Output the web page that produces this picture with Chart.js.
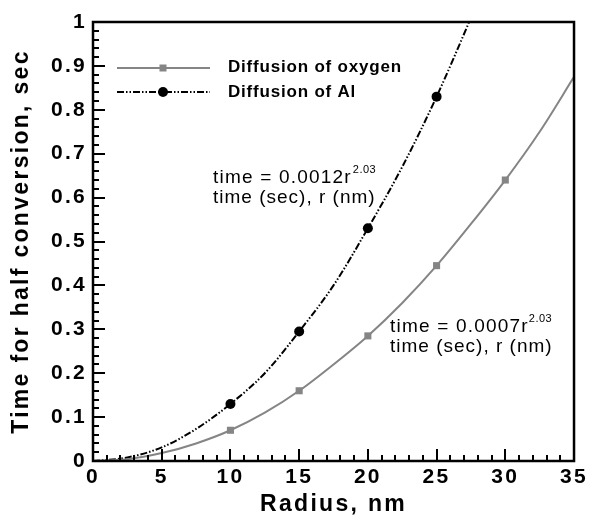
<!DOCTYPE html>
<html>
<head>
<meta charset="utf-8">
<script src="https://cdn.jsdelivr.net/npm/chart.js@4"></script>
<style>
  html, body { margin: 0; padding: 0; background: #fff; }
  #wrap { width: 592px; height: 519px; }
</style>
</head>
<body>
<div id="wrap"><canvas id="chart1" width="592" height="519"></canvas></div>
<script>
    // values
    var radius = [0, 2.5, 5, 7.5, 10, 12.5, 15, 17.5, 20, 22.5, 25, 27.5, 30, 32.5, 35];
    var oxygenTime = [0, 0.004, 0.018, 0.04, 0.07, 0.11, 0.16, 0.22, 0.285, 0.36, 0.445, 0.54, 0.64, 0.75, 0.875];
    var alTime = [0, 0.008, 0.031, 0.073, 0.13, 0.2, 0.295, 0.4, 0.53, 0.67, 0.83, 1.01, 1.2, null, null];
    var oxygenMarkers = [10, 15, 20, 25, 30];
    var alMarkers = [10, 15, 20, 25];
    var xTicks = [0, 5, 10, 15, 20, 25, 30, 35];
    var yTicks = [0, 0.1, 0.2, 0.3, 0.4, 0.5, 0.6, 0.7, 0.8, 0.9, 1];

    var gray = '#858585';
    var alDash = [7, 2, 1.5, 2, 1.5, 2];
    var fontFam = '"Liberation Sans", Arial, sans-serif';

    function pts(ys) {
        var out = [];
        for (var i = 0; i < radius.length; i++) {
            if (ys[i] !== null) out.push({x: radius[i], y: ys[i]});
        }
        return out;
    }
    function markerSizes(marks, size) {
        return radius.map(function(r) { return marks.indexOf(r) >= 0 ? size : 0; });
    }

    // the reference font runs wide, so space the letters a bit
    var spacing = {
        id: 'spacing',
        beforeLayout: function(chart) { chart.ctx.letterSpacing = '2.3px'; },
        beforeDraw: function(chart) { chart.ctx.letterSpacing = '2.3px'; }
    };

    // inward ticks, frame, legend and the fit labels
    var decor = {
        id: 'decor',
        afterDraw: function(chart) {
            var c = chart.ctx, a = chart.chartArea;
            var xs = chart.scales.x, ys = chart.scales.y;
            c.save();
            c.setLineDash([]);
            c.fillStyle = '#000';
            for (var i = 0; i <= 35; i++) {
                var px = Math.round(xs.getPixelForValue(i));
                var len = (i % 5 === 0) ? 12 : 6;
                c.fillRect(px - 1, a.bottom - len, 2, len);
            }
            for (var j = 0; j <= 50; j++) {
                var py = Math.round(ys.getPixelForValue(j / 50));
                var l2 = (j % 5 === 0) ? 12 : 6;
                c.fillRect(a.left, py - 1, l2, 2);
            }
            c.strokeStyle = '#000';
            c.lineWidth = 2.5;
            c.strokeRect(a.left, a.top, a.right - a.left, a.bottom - a.top);

            // legend
            var lx0 = 117, lx1 = 210, mx = 163;
            c.lineWidth = 2;
            c.strokeStyle = gray;
            c.beginPath(); c.moveTo(lx0, 68); c.lineTo(lx1, 68); c.stroke();
            c.fillStyle = gray;
            c.fillRect(mx - 3.5, 68 - 3.5, 7, 7);
            c.strokeStyle = '#000';
            c.setLineDash(alDash);
            c.beginPath(); c.moveTo(lx0, 92); c.lineTo(lx1, 92); c.stroke();
            c.setLineDash([]);
            c.fillStyle = '#000';
            c.beginPath(); c.arc(mx, 92, 5, 0, Math.PI * 2); c.fill();

            c.letterSpacing = '0.8px';
            c.font = 'bold 17px ' + fontFam;
            c.textBaseline = 'alphabetic';
            c.fillText('Diffusion of oxygen', 228, 72);
            c.fillText('Diffusion of Al', 228, 97);

            // fit labels
            function fit(x, y, head, gap) {
                c.letterSpacing = '1.2px';
                c.font = '19px ' + fontFam;
                c.fillText(head, x, y);
                var w = c.measureText(head).width;
                c.letterSpacing = '0.5px';
                c.font = '11px ' + fontFam;
                c.fillText('2.03', x + w + gap, y - 10);
                c.letterSpacing = '1px';
                c.font = '19px ' + fontFam;
                c.fillText('time (sec), r (nm)', x, y + 20);
            }
            fit(213, 183, 'time = 0.0012r', 1);
            fit(390, 332, 'time = 0.0007r', 0);
            c.restore();
        }
    };

    var ctx = document.getElementById('chart1').getContext('2d');
    var myChart = new Chart(ctx, {
        type: 'line',
        data: {
            datasets: [{
                label: 'Diffusion of oxygen',
                data: pts(oxygenTime),
                borderColor: gray,
                backgroundColor: gray,
                borderWidth: 2,
                cubicInterpolationMode: 'monotone',
                pointStyle: 'rect',
                pointRadius: markerSizes(oxygenMarkers, 5),
                pointBorderWidth: 0,
                pointHoverRadius: 0
            }, {
                label: 'Diffusion of Al',
                data: pts(alTime),
                borderColor: '#000',
                backgroundColor: '#000',
                borderWidth: 2,
                borderDash: alDash,
                cubicInterpolationMode: 'monotone',
                pointStyle: 'circle',
                pointRadius: markerSizes(alMarkers, 5),
                pointBorderWidth: 0,
                pointHoverRadius: 0
            }]
        },
        options: {
            responsive: false,
            animation: false,
            events: [],
            layout: { padding: { top: 22, right: 17, left: 0, bottom: 0 } },
            plugins: { legend: { display: false }, tooltip: { enabled: false } },
            scales: {
                x: {
                    type: 'linear',
                    min: 0, max: 35,
                    afterBuildTicks: function(s) { s.ticks = xTicks.map(function(v) { return {value: v}; }); },
                    afterFit: function(s) { s.height = 58; },
                    grid: { display: false, drawTicks: false },
                    border: { display: false },
                    ticks: {
                        color: '#000', padding: 4, maxRotation: 0,
                        font: { family: fontFam, size: 21, weight: 'bold' }
                    },
                    title: {
                        display: true, text: 'Radius, nm', color: '#000', padding: { top: 0, bottom: 1 },
                        font: { family: fontFam, size: 23, weight: 'bold' }
                    }
                },
                y: {
                    min: 0, max: 1,
                    afterBuildTicks: function(s) { s.ticks = yTicks.map(function(v) { return {value: v}; }); },
                    afterFit: function(s) { s.width = 93; },
                    grid: { display: false, drawTicks: false },
                    border: { display: false },
                    ticks: {
                        color: '#000', padding: 6,
                        font: { family: fontFam, size: 21, weight: 'bold' },
                        callback: function(v) { return (v === 0 || v === 1) ? String(v) : v.toFixed(1); }
                    },
                    title: {
                        display: true, text: 'Time for half conversion, sec', color: '#000', padding: { top: 8, bottom: 0 },
                        font: { family: fontFam, size: 23, weight: 'bold' }
                    }
                }
            }
        },
        plugins: [spacing, decor]
    });
</script>
</body>
</html>
